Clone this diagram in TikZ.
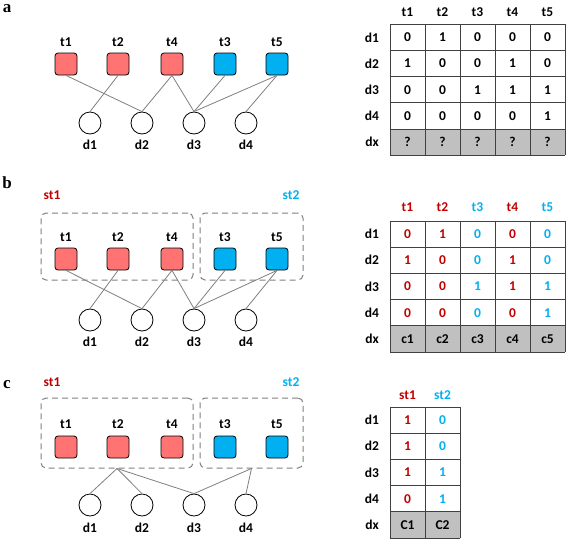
\documentclass[tikz,border=0pt]{standalone}
\usepackage{fontspec}
\setmainfont{Carlito}
\newfontfamily\panelfont{Liberation Serif}
\definecolor{sqred}{HTML}{FF7373}
\definecolor{sqblue}{HTML}{00B0F0}
\definecolor{tred}{HTML}{C00000}
\definecolor{tblue}{HTML}{00B0F0}
\definecolor{edgegray}{HTML}{7F7F7F}
\definecolor{boxgray}{HTML}{808080}
\definecolor{dxgray}{HTML}{C0C0C0}
\definecolor{tabline}{HTML}{404040}
\newcommand{\termrow}[3]{%
  \foreach \n/\x/\s in {t1/66/redsq,t2/118/redsq,t4/172/redsq,t3/225/bluesq,t5/277/bluesq}{
    \node[\s] (#1\n) at (\x,#3) {};
    \node[lbl] (#1\n-l) at (\x,#2) {\n};
  }}
\newcommand{\docrow}[3]{%
  \foreach \n/\x in {d1/90,d2/142,d3/194,d4/246}{
    \node[doc] (#1\n) at (\x,#3) {};
    \node[lbl] (#1\n-l) at (\x,#2) {\n};
  }}
\newcommand{\tabgrid}[3]{% #1 y top, #2 ncols, #3 prefix
  \fill[dxgray] (390,{#1+4*26.2}) rectangle ({390+35*#2},{#1+5*26.2});
  \foreach \i in {0,...,#2} \draw[tab] ({390+35*\i},#1) -- ({390+35*\i},{#1+5*26.2});
  \foreach \j in {0,...,5} \draw[tab] (390,{#1+26.2*\j}) -- ({390+35*#2},{#1+26.2*\j});
  \foreach \n [count=\j] in {d1,d2,d3,d4,dx}
    \node[lbl] (#3\n) at (372,{#1+26.2*\j-13.1}) {\n};
}
\begin{document}
\begin{tikzpicture}[x=1pt,y=-1pt,
  lbl/.style={font=\bfseries\fontsize{13.5}{15}\selectfont, inner sep=0pt},
  redsq/.style={draw=black, fill=sqred, rounded corners=3pt, minimum size=22pt, inner sep=0pt, line width=0.8pt},
  bluesq/.style={draw=black, fill=sqblue, rounded corners=3pt, minimum size=22pt, inner sep=0pt, line width=0.8pt},
  doc/.style={circle, draw=black, fill=white, minimum size=22pt, inner sep=0pt, line width=0.8pt},
  edge/.style={draw=edgegray, line width=0.8pt},
  group/.style={draw=boxgray, dash pattern=on 6pt off 4pt, rounded corners=5pt, line width=1pt, inner sep=0pt},
  tab/.style={draw=tabline, line width=1pt},
  panel/.style={font=\panelfont\bfseries\fontsize{17}{19}\selectfont, inner sep=0pt}]
\useasboundingbox (0,0) rectangle (567,541);

% ---------- panel a ----------
\node[panel] (pa) at (7,9) {a};
\termrow{a}{42}{64}
\docrow{a}{145}{123}
\foreach \s/\t in {t1/d2,t2/d1,t4/d2,t4/d3,t3/d3,t5/d3,t5/d4}
  \draw[edge] (a\s.south) -- (a\t.north);

\tabgrid{24.3}{5}{ta}
\foreach \h [count=\c] in {t1,t2,t3,t4,t5}
  \node[lbl] (tah\c) at ({372.5+35*\c},12) {\h};
\foreach \vals [count=\r] in {{0,1,0,0,0},{1,0,0,1,0},{0,0,1,1,1},{0,0,0,0,1},{?,?,?,?,?}}
  \foreach \v [count=\c] in \vals
    \node[lbl] (ta\r\c) at ({372.5+35*\c},{24.3+26.2*\r-13.1}) {\v};

% ---------- panel b ----------
\node[panel] (pb) at (7,183) {b};
\node[group, minimum width=152pt, minimum height=67pt] (bst1) at (117,246.5) {};
\node[group, minimum width=103pt, minimum height=67pt] (bst2) at (251.5,246.5) {};
\node[lbl, text=tred] (bst1l) at (52,195) {st1};
\node[lbl, text=tblue] (bst2l) at (291,195) {st2};
\termrow{b}{237}{259}
\docrow{b}{342}{320}
\foreach \s/\t in {t1/d2,t2/d1,t4/d2,t4/d3,t3/d3,t5/d3,t5/d4}
  \draw[edge] (b\s.south) -- (b\t.north);

\tabgrid{221}{5}{tb}
\foreach \h/\col [count=\c] in {t1/tred,t2/tred,t3/tblue,t4/tred,t5/tblue}
  \node[lbl, text=\col] (tbh\c) at ({372.5+35*\c},207) {\h};
\foreach \r/\vals in {1/{0/tred,1/tred,0/tblue,0/tred,0/tblue},
                      2/{1/tred,0/tred,0/tblue,1/tred,0/tblue},
                      3/{0/tred,0/tred,1/tblue,1/tred,1/tblue},
                      4/{0/tred,0/tred,0/tblue,0/tred,1/tblue},
                      5/{c1/black,c2/black,c3/black,c4/black,c5/black}}
  \foreach \v/\col [count=\c] in \vals
    \node[lbl, text=\col] (tb\r\c) at ({372.5+35*\c},{221+26.2*\r-13.1}) {\v};

% ---------- panel c ----------
\node[panel] (pc) at (7,385) {c};
\node[group, minimum width=152pt, minimum height=70pt] (cst1) at (117,433) {};
\node[group, minimum width=103pt, minimum height=70pt] (cst2) at (251.5,433) {};
\node[lbl, text=tred] (cst1l) at (52,382) {st1};
\node[lbl, text=tblue] (cst2l) at (291,382) {st2};
\termrow{c}{424}{447}
\docrow{c}{528}{505}
\foreach \t in {d1,d2,d3}
  \draw[edge] (cst1.south) -- (c\t.north);
\foreach \t in {d3,d4}
  \draw[edge] (cst2.south) -- (c\t.north);

\tabgrid{407}{2}{tc}
\node[lbl, text=tred] (tch1) at (407.5,395) {st1};
\node[lbl, text=tblue] (tch2) at (442.5,395) {st2};
\foreach \r/\vals in {1/{1/tred,0/tblue},2/{1/tred,0/tblue},3/{1/tred,1/tblue},4/{0/tred,1/tblue},5/{C1/black,C2/black}}
  \foreach \v/\col [count=\c] in \vals
    \node[lbl, text=\col] (tc\r\c) at ({372.5+35*\c},{407+26.2*\r-13.1}) {\v};
\end{tikzpicture}
\end{document}
